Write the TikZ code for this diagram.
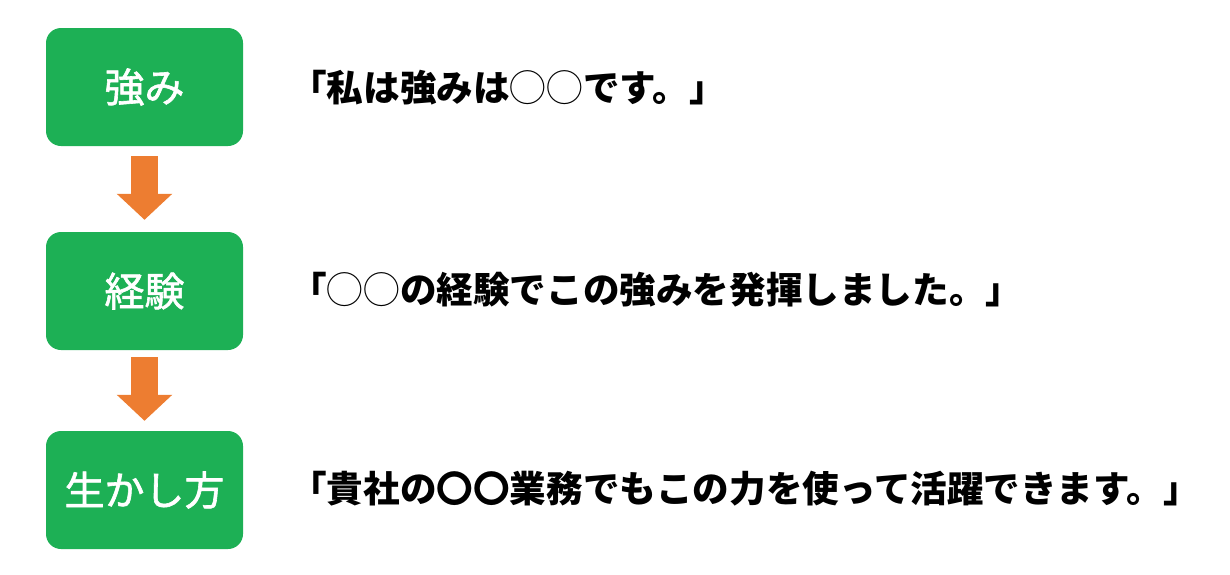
\documentclass[tikz,border=0pt]{standalone}
\usepackage{fontspec}
\newfontfamily\jp{Noto Sans CJK JP}
\newfontfamily\jplabel{Noto Sans CJK JP}[FakeBold=1.5]
\usetikzlibrary{arrows.meta}
\definecolor{boxgreen}{HTML}{1DB055}
\definecolor{arroworange}{HTML}{ED7D31}
\begin{document}
\begin{tikzpicture}[x=1pt,y=-1pt,
  stepbox/.style={fill=boxgreen, rounded corners=15pt, minimum width=197pt,
    minimum height=118pt, inner sep=0pt, text=white,
    font=\jplabel\fontsize{40}{44}\selectfont},
  saying/.style={anchor=west, inner sep=0pt,
    font=\jp\bfseries\fontsize{36.6}{40}\selectfont},
  flow/.style={draw=arroworange, line width=27pt,
    -{Triangle[width=54pt,length=26pt]}}]
\useasboundingbox (0,0) rectangle (1230,574);
\node[stepbox] (b1) at (144.5,87) {強み};
\node[stepbox] (b2) at (144.5,291) {経験};
\node[stepbox] (b3) at (144.5,490) {生かし方};
\draw[flow, shorten <=10pt, shorten >=12pt] (b1.south) -- (b2.north);
\draw[flow, shorten <=7pt, shorten >=10pt] (b2.south) -- (b3.north);
\node[saying] (t1) at (290,88) {「私は強みは{\mdseries ◯◯}です。」};
\node[saying] (t2) at (290,290) {「{\mdseries ◯◯}の経験でこの強みを発揮しました。」};
\node[saying] (t3) at (290,489) {「貴社の〇〇業務でもこの力を使って活躍できます。」};
\end{tikzpicture}
\end{document}
